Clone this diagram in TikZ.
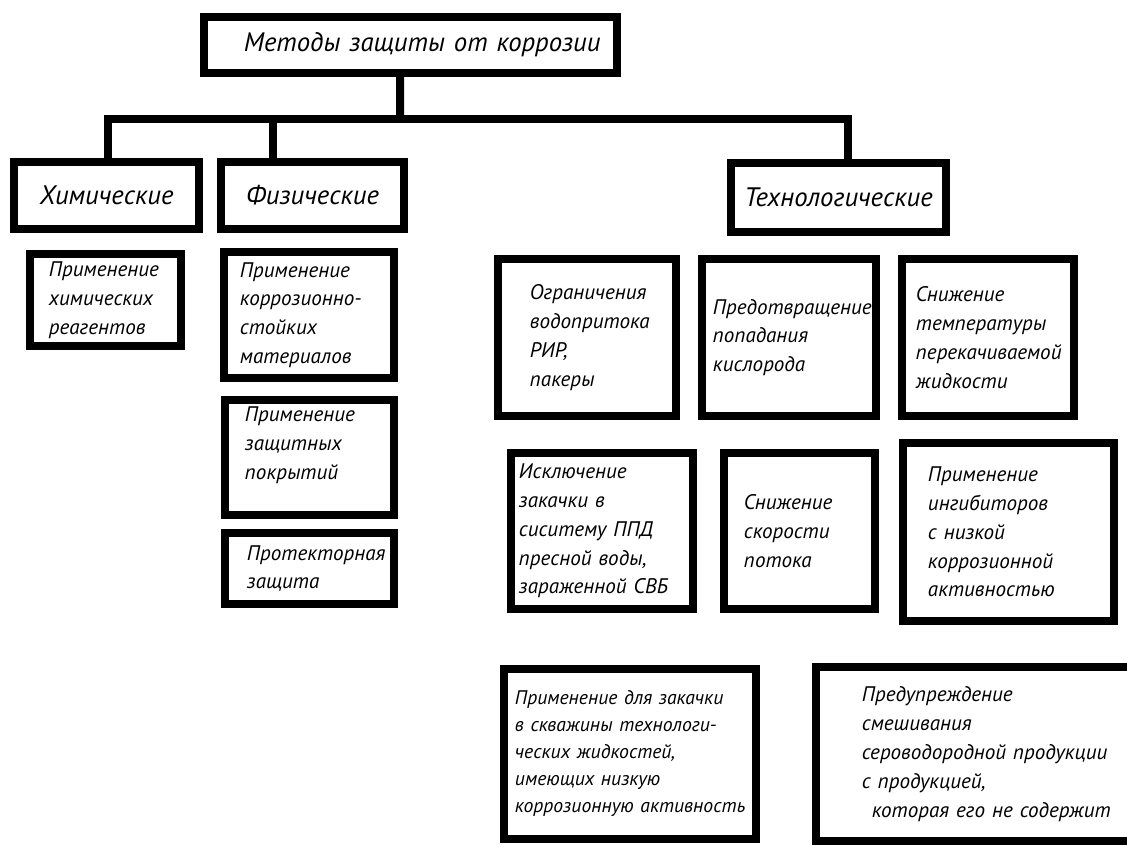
\documentclass[tikz,border=0pt]{standalone}
\usepackage{fontspec}
\setmainfont{PT Sans}

\tikzset{
  blk/.style={draw, line width=0.2cm, inner sep=0pt, align=left},
  head/.style={blk, font=\fontsize{19}{23}\selectfont\itshape},
  item/.style={blk, font=\fontsize{15}{20.5}\selectfont\itshape},
  link/.style={line width=0.2cm}
}

\begin{document}
\begin{tikzpicture}[x=0.025cm, y=-0.025cm]
        \useasboundingbox (0,0) rectangle (1127,846);
        % top level
        \node[head, minimum width=10.325cm, minimum height=1.4cm, text width=8.325cm] (top) at (410.5,45) {Методы~защиты~от~коррозии};
        \node[head, minimum width=4.625cm, minimum height=1.675cm] (chem) at (106.5,195.5) {Химические};
        \node[head, minimum width=4.575cm, minimum height=1.675cm] (phys) at (312.5,195.5) {Физические};
        \node[head, minimum width=5.375cm, minimum height=1.725cm] (tech) at (838.5,197.5) {Технологические};
        % chemical / physical
        \node[item, minimum width=3.775cm, minimum height=2.3cm, text width=2.825cm] (chem1) at (105.5,300) {Применение\\химических\\реагентов};
        \node[item, minimum width=4.25cm, minimum height=3.15cm, text width=3.45cm] (phys1) at (309,315) {Применение\\коррозионно-\\стойких\\материалов};
        \node[item, minimum width=4.225cm, minimum height=2.875cm, text width=3.225cm] (phys2) at (309.5,457.5) {Применение\\защитных\\покрытий\\\mbox{}};
        \node[item, minimum width=4.225cm, minimum height=1.775cm, text width=3.125cm] (phys3) at (309.5,568.5) {Протекторная\\защита};
        % technological
        \node[item, minimum width=4.45cm, minimum height=3.925cm, text width=2.85cm] (tech1) at (587,337.5) {Ограничения\\водопритока\\РИР,\\пакеры};
        \node[item, minimum width=4.35cm, minimum height=3.925cm, text width=3.8cm] (tech2) at (789,337.5) {Предотвращение\\попадания\\кислорода};
        \node[item, minimum width=4.3cm, minimum height=3.925cm, text width=3.6cm] (tech3) at (988,337.5) {Снижение\\температуры\\перекачиваемой\\жидкости};
        \node[item, minimum width=4.55cm, minimum height=3.9cm, text width=4.15cm] (tech4) at (602,531) {Исключение\\закачки~в\\сиситему~ППД\\пресной~воды,\\зараженной~СВБ};
        \node[item, minimum width=3.775cm, minimum height=3.9cm, text width=2.775cm] (tech5) at (799.5,531) {Снижение\\скорости\\потока};
        \node[item, minimum width=5.275cm, minimum height=4.45cm, text width=4.025cm] (tech6) at (1008.5,532) {Применение\\ингибиторов\\с~низкой\\коррозионной\\активностью};
        \node[item, font=\fontsize{14}{19.2}\selectfont\itshape, minimum width=6.3cm, minimum height=4.25cm, text width=5.75cm] (tech7) at (630,754) {Применение~для~закачки\\в~скважины~технологи-\\ческих~жидкостей,\\имеющих~низкую\\коррозионную~активность};
        \node[item, minimum width=7.875cm, minimum height=4.35cm, text width=5.575cm] (tech8) at (973.5,754) {Предупреждение\\смешивания\\сероводородной~продукции\\с~продукцией,\\\hspace*{0.25cm}которая~его~не~содержит};
        % connectors
        \coordinate (bus) at (400,119);
        \coordinate (pdrop) at ([xshift=-0.99cm]phys.north);
        \draw[link] ([xshift=-0.26cm]top.south) -- (bus);
        \draw[link] ([xshift=0.04cm]chem.north) |- (bus) -| ([xshift=0.24cm]tech.north);
        \draw[link] (pdrop) -- (pdrop |- bus);
    \end{tikzpicture}
\end{document}
